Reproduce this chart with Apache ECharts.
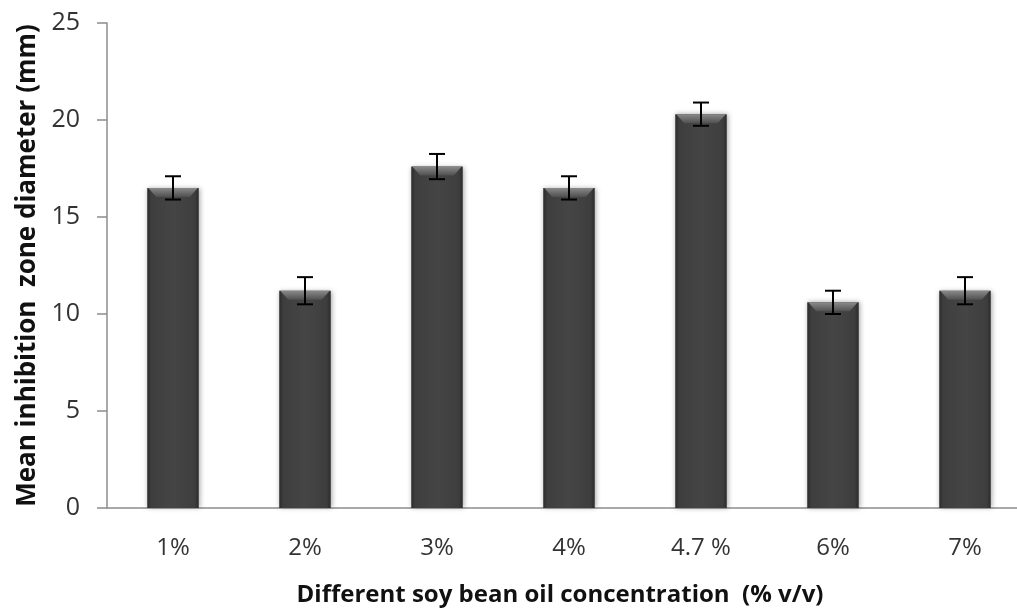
<!DOCTYPE html>
<html>
<head>
<meta charset="utf-8">
<script src="https://cdn.jsdelivr.net/npm/echarts@6/dist/echarts.min.js"></script>
<style>html,body{margin:0;padding:0;background:#fff;overflow:hidden;}#c{width:1017px;height:609px;}</style>
</head>
<body>
<div id="c"></div>
<script>
const categories = ['1%', '2%', '3%', '4%', '4.7 %', '6%', '7%'];
const means = [16.5, 11.2, 17.6, 16.5, 20.3, 10.6, 11.2];
const errors = [0.6, 0.7, 0.65, 0.6, 0.6, 0.6, 0.7];
const yTicks = [0, 5, 10, 15, 20, 25];

const chart = echarts.init(document.getElementById('c'));
const BAR_FRAC = 0.39;
const FONT = '"Open Sans", "Noto Sans", sans-serif';

chart.setOption({
  animation: false,
  backgroundColor: '#fff',
  grid: { left: 107, top: 23, width: 924, height: 485, containLabel: false, outerBoundsMode: 'none' },
  xAxis: {
    type: 'category',
    data: categories,
    axisLine: { lineStyle: { color: '#8c8c8c', width: 1.5 } },
    axisTick: { show: false },
    axisLabel: { color: '#333', fontSize: 24, fontFamily: FONT, margin: 28 },
    name: 'Different soy bean oil concentration  (% v/v)',
    nameLocation: 'middle',
    nameGap: 75,
    nameTextStyle: { color: '#111', fontSize: 24, fontWeight: 'bold', fontFamily: FONT, padding: [0, 18, 0, 0] }
  },
  yAxis: {
    type: 'value',
    min: yTicks[0], max: yTicks[yTicks.length - 1], interval: 5,
    splitLine: { show: false },
    axisLine: { show: true, lineStyle: { color: '#8c8c8c', width: 1.5 } },
    axisTick: { show: true, length: 10, lineStyle: { color: '#8c8c8c', width: 1.5 } },
    axisLabel: { color: '#333', fontSize: 25, fontFamily: FONT, margin: 27 },
    name: 'Mean inhibition  zone diameter (mm)',
    nameLocation: 'middle',
    nameGap: 62,
    nameTextStyle: { color: '#111', fontSize: 26, fontWeight: 'bold', fontFamily: FONT }
  },
  series: [
    {
      type: 'bar',
      data: means,
      barWidth: (BAR_FRAC * 100) + '%',
      itemStyle: {
        color: {
          type: 'linear', x: 0, y: 0, x2: 1, y2: 0,
          colorStops: [
            { offset: 0, color: '#2b2b2b' },
            { offset: 0.08, color: '#3e3e3e' },
            { offset: 0.5, color: '#454545' },
            { offset: 0.92, color: '#3e3e3e' },
            { offset: 1, color: '#2b2b2b' }
          ]
        },
        shadowBlur: 5,
        shadowColor: 'rgba(0,0,0,0.35)',
        shadowOffsetX: 1,
        shadowOffsetY: 0
      }
    },
    {
      type: 'custom',
      data: means.map((m, i) => [i, m, errors[i]]),
      z: 5,
      renderItem: function (params, api) {
        const i = api.value(0), m = api.value(1), e = api.value(2);
        const top = api.coord([i, m]);
        const bw = api.size([1, 0])[0] * BAR_FRAC;
        const hi = api.coord([i, m + e]);
        const lo = api.coord([i, m - e]);
        const cap = 8;
        const bev = 9;
        const x0 = top[0] - bw / 2, x1 = top[0] + bw / 2;
        return {
          type: 'group',
          children: [
            {
              type: 'polygon',
              shape: { points: [[x0 + 1, top[1]], [x1 - 1, top[1]], [x1 - bev, top[1] + bev], [x0 + bev, top[1] + bev]] },
              style: {
                fill: {
                  type: 'linear', x: 0, y: 0, x2: 0, y2: 1,
                  colorStops: [{ offset: 0, color: '#8a8a8a' }, { offset: 1, color: '#505050' }]
                }
              }
            },
            { type: 'line', shape: { x1: hi[0], y1: hi[1], x2: lo[0], y2: lo[1] }, style: { stroke: '#000', lineWidth: 2 } },
            { type: 'line', shape: { x1: hi[0] - cap, y1: hi[1], x2: hi[0] + cap, y2: hi[1] }, style: { stroke: '#000', lineWidth: 2 } },
            { type: 'line', shape: { x1: lo[0] - cap, y1: lo[1], x2: lo[0] + cap, y2: lo[1] }, style: { stroke: '#000', lineWidth: 2 } }
          ]
        };
      }
    }
  ]
});
</script>
</body>
</html>
